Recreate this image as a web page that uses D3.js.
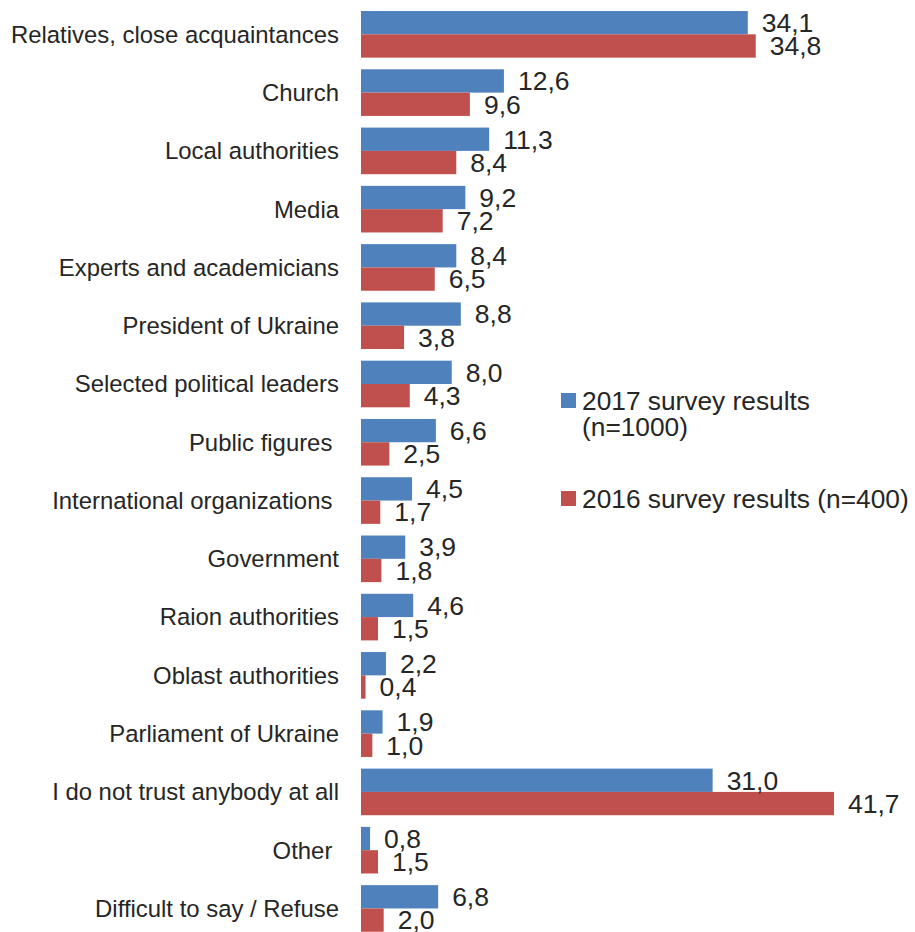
<!DOCTYPE html>
<html>
<head>
<meta charset="utf-8">
<script src="https://cdn.jsdelivr.net/npm/d3@7"></script>
<style>
  body { margin: 0; background: #fff; }
  text { font-family: "Liberation Sans", Arial, sans-serif; fill: #262626; white-space: pre; }
</style>
</head>
<body>
<div id="container"></div>
<script>
const width = 915; // page size
const height = 932;
const marginLeft = 361; // where the bars start
const barTop = 5.2;
const barBottom = 937.6;

const categories = [
  "Relatives, close acquaintances", "Church", "Local authorities", "Media",
  "Experts and academicians", "President of Ukraine", "Selected political leaders",
  "Public figures ", "International organizations ", "Government", "Raion authorities",
  "Oblast authorities", "Parliament of Ukraine", "I do not trust anybody at all",
  "Other ", "Difficult to say / Refuse"
];
const values2017 = [34.1, 12.6, 11.3, 9.2, 8.4, 8.8, 8.0, 6.6, 4.5, 3.9, 4.6, 2.2, 1.9, 31.0, 0.8, 6.8];
const values2016 = [34.8, 9.6, 8.4, 7.2, 6.5, 3.8, 4.3, 2.5, 1.7, 1.8, 1.5, 0.4, 1.0, 41.7, 1.5, 2.0];
const seriesNames = ["2017 survey results\n(n=1000)", "2016 survey results (n=400)"];
const colors = ["#4f81bd", "#c0504d"];

const data = categories.map((c, i) => ({ cat: c, vals: [values2017[i], values2016[i]] }));

const x = d3.scaleLinear()
  .domain([0, 41.7])
  .range([marginLeft, 834]);

const y = d3.scaleBand()
  .domain(categories)
  .range([barTop, barBottom])
  .paddingInner(0.2)
  .paddingOuter(0.1);

const sub = d3.scaleBand()
  .domain([0, 1])
  .range([0, y.bandwidth()]);

const svg = d3.select("#container").append("svg")
  .attr("width", width)
  .attr("height", height);

const groups = svg.append("g")
  .selectAll("g")
  .data(data)
  .join("g")
  .attr("transform", d => `translate(0,${y(d.cat)})`);

// category labels
groups.append("text")
  .attr("x", 339)
  .attr("y", y.bandwidth() / 2)
  .attr("dy", "0.35em")
  .attr("text-anchor", "end")
  .attr("font-size", 23.9)
  .text(d => d.cat);

// bars
groups.selectAll("rect")
  .data(d => d.vals)
  .join("rect")
  .attr("x", x(0))
  .attr("y", (v, i) => sub(i))
  .attr("width", v => x(v) - x(0))
  .attr("height", sub.bandwidth())
  .attr("fill", (v, i) => colors[i]);

// value labels
groups.selectAll("text.val")
  .data(d => d.vals)
  .join("text")
  .attr("class", "val")
  .attr("x", v => x(v) + 14)
  .attr("y", (v, i) => sub(i) + sub.bandwidth() / 2)
  .attr("dy", "0.35em")
  .attr("font-size", 26.5)
  .text(v => d3.format(".1f")(v).replace(".", ","));

// legend
const legend = svg.append("g")
  .selectAll("g")
  .data(seriesNames)
  .join("g")
  .attr("transform", (d, i) => `translate(561,${i === 0 ? 393 : 491})`);

legend.append("rect")
  .attr("width", 15)
  .attr("height", 15)
  .attr("fill", (d, i) => colors[i]);

legend.append("text")
  .attr("y", 17)
  .attr("font-size", 26.3)
  .selectAll("tspan")
  .data(d => d.split("\n"))
  .join("tspan")
  .attr("x", 21)
  .attr("dy", (d, i) => i === 0 ? 0 : 26)
  .text(d => d);
</script>
</body>
</html>
